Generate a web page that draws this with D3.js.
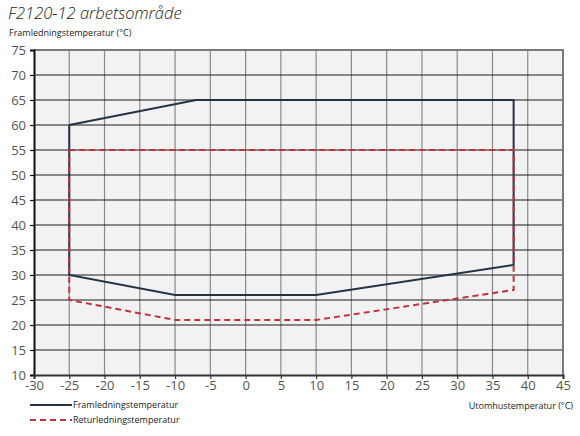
<!DOCTYPE html>
<html>
<head>
<meta charset="utf-8">
<script src="https://cdn.jsdelivr.net/npm/d3@7"></script>
<style>
  body { margin: 0; background: #fff; }
  text { font-family: "Open Sans", "DejaVu Sans", sans-serif; }
</style>
</head>
<body>
<div id="chart"></div>
<script>
// framledning (supply) envelope
var framX = [-25, -7, 38, 38, 10, -10, -25, -25];
var framY = [60, 65, 65, 32, 26, 26, 30, 60];
// returledning (return) envelope
var returX = [-25, 38, 38, 10, -10, -25, -25];
var returY = [55, 55, 27, 21, 21, 25, 55];

var xTicks = d3.range(-30, 46, 5);
var yTicks = d3.range(10, 76, 5);

var width = 580, height = 436;
var svg = d3.select("#chart").append("svg").attr("width", width).attr("height", height);

var x = d3.scaleLinear().domain([-30, 45]).range([34, 563]);
var y = d3.scaleLinear().domain([10, 75]).range([375, 50]);

// title
svg.append("text").attr("x", 8).attr("y", 19)
  .attr("font-size", 16.5).attr("font-style", "italic").attr("font-weight", 300)
  .attr("fill", "#222").text("F2120-12 arbetsområde");
svg.append("text").attr("x", 9).attr("y", 36)
  .attr("font-size", 9).attr("fill", "#222").text("Framledningstemperatur (°C)");

// plot background
svg.append("rect").attr("x", x(-30)).attr("y", y(75))
  .attr("width", x(45) - x(-30)).attr("height", y(10) - y(75))
  .attr("fill", "#f2f2f2");

// vertical grid
svg.append("g").selectAll("line").data(xTicks.slice(1, -1)).enter().append("line")
  .attr("x1", d => x(d)).attr("x2", d => x(d))
  .attr("y1", y(75)).attr("y2", y(10))
  .attr("stroke", "#8a8a8a").attr("stroke-width", 1.2);

// horizontal grid
svg.append("g").selectAll("line").data(yTicks.slice(1, -1)).enter().append("line")
  .attr("x1", x(-30)).attr("x2", x(45))
  .attr("y1", d => y(d)).attr("y2", d => y(d))
  .attr("stroke", "#1a1a1a").attr("stroke-width", 1.2);

// frame top/right
svg.append("path")
  .attr("d", "M" + x(-30) + "," + y(75) + "H" + x(45) + "V" + y(10))
  .attr("fill", "none").attr("stroke", "#7a7a7a").attr("stroke-width", 2);

// axes
var yAxis = d3.axisLeft(y).tickValues(yTicks).tickSize(4).tickPadding(4)
  .tickFormat(d => String(d));
var gy = svg.append("g").attr("transform", "translate(" + x(-30) + ",0)").call(yAxis);
gy.select(".domain").attr("stroke", "#111").attr("stroke-width", 2);
gy.selectAll(".tick line").attr("stroke", "#111").attr("stroke-width", 1.2);
gy.selectAll("text").attr("font-size", 13).attr("fill", "#555").attr("font-family", "Open Sans, sans-serif");

var xAxis = d3.axisBottom(x).tickValues(xTicks).tickSize(4).tickPadding(2)
  .tickFormat(d => String(d));
var gx = svg.append("g").attr("transform", "translate(0," + y(10) + ")").call(xAxis);
gx.select(".domain").attr("stroke", "#333").attr("stroke-width", 2);
gx.selectAll(".tick line").attr("stroke", "#333").attr("stroke-width", 1.2);
gx.selectAll("text").attr("font-size", 13).attr("fill", "#555").attr("font-family", "Open Sans, sans-serif");

svg.append("text").attr("x", 573).attr("y", 409).attr("text-anchor", "end")
  .attr("font-size", 9).attr("fill", "#222").text("Utomhustemperatur (°C)");

// series
var line = d3.line().x(d => x(d[0])).y(d => y(d[1]));
var framPts = framX.map((v, i) => [v, framY[i]]);
var returPts = returX.map((v, i) => [v, returY[i]]);

svg.append("path").datum(framPts).attr("d", line)
  .attr("fill", "none").attr("stroke", "#253347").attr("stroke-width", 2);
svg.append("path").datum(returPts).attr("d", line)
  .attr("fill", "none").attr("stroke", "#c4303c").attr("stroke-width", 2)
  .attr("stroke-dasharray", "6,4");

// legend
var legend = [
  {label: "Framledningstemperatur", color: "#253347", dash: null, y: 405},
  {label: "Returledningstemperatur", color: "#c4303c", dash: "6,4", y: 420}
];
legend.forEach(function(l) {
  svg.append("line").attr("x1", 30).attr("x2", 72).attr("y1", l.y).attr("y2", l.y)
    .attr("stroke", l.color).attr("stroke-width", 2).attr("stroke-dasharray", l.dash);
  svg.append("text").attr("x", 73).attr("y", l.y + 3)
    .attr("font-size", 9).attr("fill", "#222").text(l.label);
});
</script>
</body>
</html>
